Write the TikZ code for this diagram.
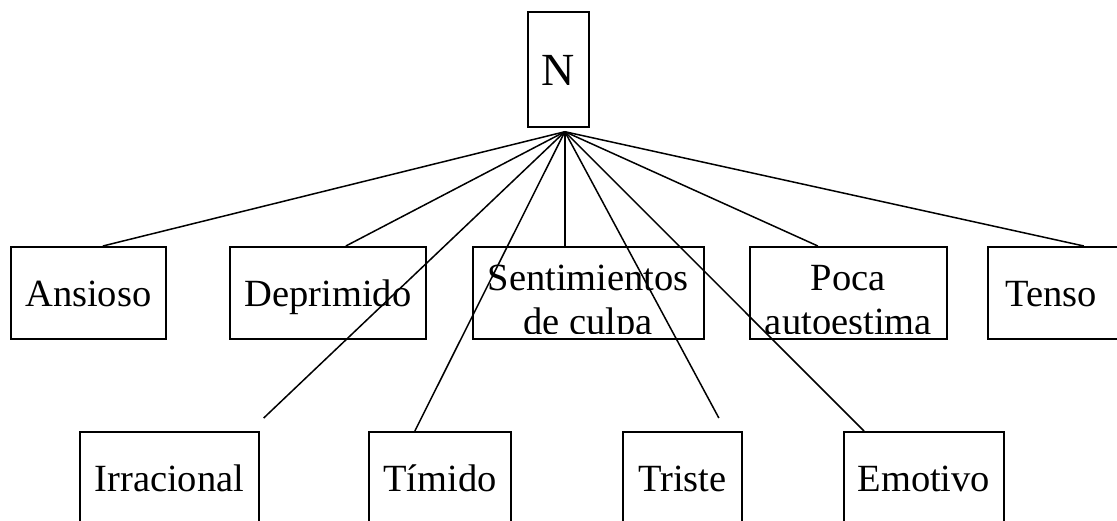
\documentclass[tikz,border=0pt]{standalone}
\usepackage{fontspec}
\setmainfont{Liberation Serif}
\usepackage{tikz}
\usetikzlibrary{calc}

\begin{document}
\begin{tikzpicture}[x=1pt, y=-1pt,
  box/.style={rectangle, draw, line width=1.7pt, inner sep=0pt, anchor=north west, minimum height=92pt},
  low/.style={box, minimum height=100pt},
  word/.style={anchor=base, inner sep=0pt, font=\fontsize{38.5}{44}\selectfont},
  two/.style={word, align=center},
  link/.style={line width=1.5pt}]
\clip (0,0) rectangle (1117,520);

% Boxes
\node[box, minimum width=61pt, minimum height=115pt] (n) at (527,11) {};
\node[box, minimum width=155pt] (ans) at (10,246) {};
\node[box, minimum width=196pt] (dep) at (229,246) {};
\node[box, minimum width=231pt] (sen) at (472,246) {};
\node[box, minimum width=197pt] (poc) at (749,246) {};
\node[box, minimum width=131pt] (ten) at (987,246) {};
\node[low, minimum width=179pt] (irr) at (79,431) {};
\node[low, minimum width=142pt] (tim) at (368,431) {};
\node[low, minimum width=119pt] (tri) at (622,431) {};
\node[low, minimum width=160pt] (emo) at (843,431) {};

% Texts
\node[word, font=\fontsize{46}{50}\selectfont] (n-t) at ([yshift=-74pt]n.north) {N};
\node[word] (ans-t) at ([yshift=-60pt]ans.north) {Ansioso};
\node[word] (dep-t) at ([yshift=-60pt]dep.north) {Deprimido};
\node[word] (ten-t) at ([xshift=-2pt,yshift=-60pt]ten.north) {Tenso};
\node[word] (irr-t) at ([yshift=-60pt]irr.north) {Irracional};
\node[word] (tim-t) at ([yshift=-60pt]tim.north) {Tímido};
\node[word] (tri-t) at ([yshift=-60pt]tri.north) {Triste};
\node[word] (emo-t) at ([yshift=-60pt]emo.north) {Emotivo};
\begin{scope}
\clip (sen.north west) rectangle ($(sen.south east)+(0,-6.5)$);
\node[two] (sen-t) at ([yshift=-88pt]sen.north) {Sentimientos\\de culpa};
\end{scope}
\begin{scope}
\clip (poc.north west) rectangle ($(poc.south east)+(0,-6.5)$);
\node[two] (poc-t) at ([yshift=-88pt]poc.north) {Poca\\autoestima};
\end{scope}

%Lines
\coordinate (hub) at ([xshift=6.5pt,yshift=-4pt]n.south);
\coordinate (irr-end) at ([xshift=4pt,yshift=13pt]irr.north east);
\coordinate (tri-end) at ([xshift=36.5pt,yshift=13pt]tri.north);
\draw[link] (hub) -- ([xshift=14.5pt]ans.north);
\draw[link] (hub) -- ([xshift=18pt]dep.north);
\draw[link] (hub) -- ([xshift=-23.5pt]sen.north);
\draw[link] (hub) -- ([xshift=-30.5pt]poc.north);
\draw[link] (hub) -- ([xshift=30.5pt]ten.north);
\draw[link] (hub) -- (irr-end);
\draw[link] (hub) -- ([xshift=-25pt]tim.north);
\draw[link] (hub) -- (tri-end);
\draw[link] (hub) -- ([xshift=21pt]emo.north west);
\end{tikzpicture}
\end{document}
